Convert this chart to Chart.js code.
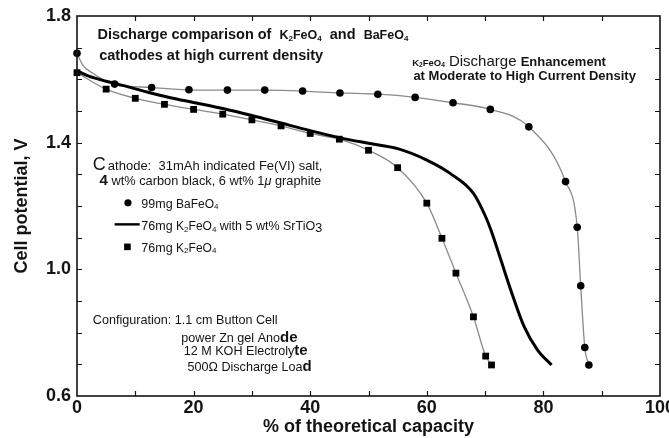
<!DOCTYPE html>
<html>
<head>
<meta charset="utf-8">
<script src="https://cdn.jsdelivr.net/npm/chart.js@4.4.1/dist/chart.umd.min.js"></script>
<style>
  html, body { margin: 0; padding: 0; background: #fff; }
  #wrap { width: 669px; height: 438px; }
</style>
</head>
<body>
<div id="wrap"><canvas id="c" width="669" height="438"></canvas></div>
<script>
// 99 mg BaFeO4 cathode: measured points (filled circles)
const baCapacity = [0, 6.45, 12.8, 19.2, 25.8, 32.2, 38.7, 45.1, 51.6, 58.0, 64.5, 70.9, 77.5, 83.8, 85.8, 86.4, 87.1, 87.8];
const baVoltage  = [1.682, 1.585, 1.574, 1.567, 1.566, 1.566, 1.563, 1.557, 1.553, 1.543, 1.526, 1.505, 1.450, 1.277, 1.133, 0.948, 0.753, 0.698];
// extra trace points of the BaFeO4 curve through its initial voltage drop
const baLeadCapacity = [1.0, 2.7, 4.4];
const baLeadVoltage  = [1.645, 1.619, 1.600];

// 76 mg K2FeO4 cathode: measured points (filled squares)
const kCapacity = [0, 5, 10, 15, 20, 25, 30, 35, 40, 45, 50, 55, 60, 62.6, 65, 68, 70.1, 71.1];
const kVoltage  = [1.621, 1.569, 1.540, 1.521, 1.505, 1.490, 1.472, 1.453, 1.429, 1.411, 1.376, 1.321, 1.209, 1.098, 0.988, 0.850, 0.726, 0.698];

// 76 mg K2FeO4 with 5 wt% SrTiO3: continuous discharge trace
const srCapacity = [0, 2, 5, 8, 12, 16, 20, 25, 30, 35, 40, 45, 50, 55, 60, 64, 68, 70, 71, 72.7, 74.4, 76.7, 79, 81.4];
const srVoltage  = [1.627, 1.610, 1.594, 1.580, 1.560, 1.542, 1.527, 1.508, 1.486, 1.462, 1.438, 1.416, 1.398, 1.381, 1.345, 1.303, 1.240, 1.170, 1.124, 1.030, 0.935, 0.819, 0.745, 0.698];

// labelled axis ticks
const capacityTicks = [0, 20, 40, 60, 80, 100];
const voltageTicks  = [0.6, 1.0, 1.4, 1.8];

const FAM = "'Liberation Sans', Arial, Helvetica, sans-serif";
const font = (w, s, style) => `${style || ''} ${w} ${s}px ${FAM}`.trim();
const INK = '#141414';
const GREY = '#8a8a8a';

const toPoints = (xs, ys) => xs.map((x, i) => ({ x, y: ys[i] }));
const baTrace = toPoints(baCapacity.concat(baLeadCapacity), baVoltage.concat(baLeadVoltage))
  .sort((a, b) => a.x - b.x);

// chemical formula pieces with subscripts
const chem = (parts, big, small, weight) => parts.map(p =>
  typeof p === 'number'
    ? { t: String(p), f: font(weight, small), dy: 1.5 }
    : { t: p, f: font(weight, big) });

// free text placed in data coordinates (capacity, voltage) at the text baseline
const notes = [
  { cap: 3.5, volt: 1.726, segs: [
      { t: 'Discharge comparison of  ', f: font('bold', 14.5) },
      ...chem(['K', 2, 'FeO', 4], 12.5, 8, 'bold'),
      { t: '  and  ', f: font('bold', 14.5) },
      ...chem(['BaFeO', 4], 12.5, 8, 'bold') ] },
  { cap: 3.8, volt: 1.661, segs: [ { t: 'cathodes at high current density', f: font('bold', 14.5) } ] },
  { cap: 57.5, volt: 1.643, segs: [
      ...chem(['K', 2, 'FeO', 4], 9.5, 6.5, 'bold'),
      { t: ' Discharge ', f: font('normal', 15) },
      { t: 'Enhancement', f: font('bold', 13) } ] },
  { cap: 57.7, volt: 1.598, segs: [ { t: 'at Moderate to High Current Density', f: font('bold', 13) } ] },
  { cap: 2.72, volt: 1.314, segs: [
      { t: 'C', f: font('normal', 18) },
      { t: 'athode:  31mAh indicated Fe(VI) salt,', f: font('normal', 13), dx: 2 } ] },
  { cap: 3.87, volt: 1.266, segs: [
      { t: '4', f: font('bold', 15) },
      { t: ' wt% carbon black, 6 wt% 1', f: font('normal', 12.8) },
      { t: 'μ', f: font('normal', 12.8, 'italic') },
      { t: ' graphite', f: font('normal', 12.8) } ] },
  { cap: 11.04, volt: 1.195, segs: [
      { t: '99mg ', f: font('normal', 12.5) },
      ...chem(['BaFeO', 4], 12, 8, 'normal') ] },
  { cap: 11.04, volt: 1.124, segs: [
      { t: '76mg ', f: font('normal', 12.5) },
      ...chem(['K', 2, 'FeO', 4], 12, 8, 'normal'),
      { t: ' with 5 wt% SrTiO', f: font('normal', 12.5) },
      { t: '3', f: font('normal', 12.5), dy: 1.5 } ] },
  { cap: 11.04, volt: 1.056, segs: [
      { t: '76mg ', f: font('normal', 12.5) },
      ...chem(['K', 2, 'FeO', 4], 12, 8, 'normal') ] },
  { cap: 2.72, volt: 0.827, segs: [ { t: 'Configuration: 1.1 cm Button Cell', f: font('normal', 12.6) } ] },
  { cap: 17.9, volt: 0.772, segs: [
      { t: 'power Zn gel Ano', f: font('normal', 12.6) },
      { t: 'de', f: font('bold', 15) } ] },
  { cap: 18.3, volt: 0.730, segs: [
      { t: '12 M KOH Electroly', f: font('normal', 12.6) },
      { t: 'te', f: font('bold', 15) } ] },
  { cap: 18.95, volt: 0.679, segs: [
      { t: '500Ω Discharge Loa', f: font('normal', 12.6) },
      { t: 'd', f: font('bold', 15) } ] }
];

// legend keys drawn inside the plot
const legendKeys = [
  { kind: 'circle', cap: 8.74, volt: 1.210 },
  { kind: 'line', cap: 6.45, cap2: 10.75, volt: 1.142 },
  { kind: 'square', cap: 8.65, volt: 1.071 }
];

function drawRich(ctx, x, y, segs) {
  let cx = x;
  for (const s of segs) {
    ctx.font = s.f;
    cx += s.dx || 0;
    ctx.fillText(s.t, cx, y + (s.dy || 0));
    cx += ctx.measureText(s.t).width;
  }
}

function subdivide(ticks, parts) {
  const out = [];
  for (let i = 0; i < ticks.length - 1; i++) {
    for (let k = 1; k < parts; k++) out.push(ticks[i] + (ticks[i + 1] - ticks[i]) * k / parts);
  }
  return out.concat(ticks.slice(1, -1));
}

const framePlugin = {
  id: 'frameAndNotes',
  afterDatasetsDraw(chart) {
    const { ctx, chartArea: a, scales: { x, y } } = chart;
    ctx.save();
    ctx.strokeStyle = INK;
    ctx.lineWidth = 1.6;
    ctx.strokeRect(a.left, a.top, a.right - a.left, a.bottom - a.top);

    // inward tick marks on all four sides
    const len = 5;
    ctx.lineWidth = 1.2;
    ctx.beginPath();
    for (const v of subdivide(capacityTicks, 2)) {
      const px = Math.round(x.getPixelForValue(v)) + 0.5;
      ctx.moveTo(px, a.bottom); ctx.lineTo(px, a.bottom - len);
      ctx.moveTo(px, a.top); ctx.lineTo(px, a.top + len);
    }
    for (const v of subdivide(voltageTicks, 4)) {
      const py = Math.round(y.getPixelForValue(v)) + 0.5;
      ctx.moveTo(a.left, py); ctx.lineTo(a.left + len, py);
      ctx.moveTo(a.right, py); ctx.lineTo(a.right - len, py);
    }
    ctx.stroke();

    // legend keys
    ctx.fillStyle = '#000';
    ctx.strokeStyle = '#000';
    for (const k of legendKeys) {
      const px = x.getPixelForValue(k.cap), py = y.getPixelForValue(k.volt);
      if (k.kind === 'circle') {
        ctx.beginPath(); ctx.arc(px, py, 3.6, 0, Math.PI * 2); ctx.fill();
      } else if (k.kind === 'square') {
        ctx.fillRect(px - 3.3, py - 3.3, 6.6, 6.6);
      } else {
        ctx.lineWidth = 2.4;
        ctx.beginPath();
        ctx.moveTo(px, py); ctx.lineTo(x.getPixelForValue(k.cap2), py);
        ctx.stroke();
      }
    }

    // annotations
    ctx.fillStyle = INK;
    ctx.textBaseline = 'alphabetic';
    ctx.textAlign = 'left';
    for (const n of notes) {
      drawRich(ctx, x.getPixelForValue(n.cap), y.getPixelForValue(n.volt), n.segs);
    }
    ctx.restore();
  }
};

const axisFont = { family: FAM, size: 18, weight: 'bold' };

new Chart(document.getElementById('c'), {
  type: 'scatter',
  data: {
    datasets: [
      { label: '99mg BaFeO4', data: toPoints(baCapacity, baVoltage), showLine: false, clip: false,
        pointStyle: 'circle', pointRadius: 3.8, pointBackgroundColor: '#000', pointBorderColor: '#000', pointBorderWidth: 0 },
      { label: '76mg K2FeO4', data: toPoints(kCapacity, kVoltage), showLine: false, clip: false,
        pointStyle: 'rect', pointRadius: 4.8, pointBackgroundColor: '#000', pointBorderColor: '#000', pointBorderWidth: 0 },
      { label: '76mg K2FeO4 with 5 wt% SrTiO3', data: toPoints(srCapacity, srVoltage), showLine: true,
        borderColor: '#000', borderWidth: 3, pointRadius: 0, cubicInterpolationMode: 'monotone' },
      { label: 'BaFeO4 trace', data: baTrace, showLine: true,
        borderColor: GREY, borderWidth: 1.3, pointRadius: 0, cubicInterpolationMode: 'monotone' },
      { label: 'K2FeO4 trace', data: toPoints(kCapacity, kVoltage), showLine: true,
        borderColor: GREY, borderWidth: 1.3, pointRadius: 0, cubicInterpolationMode: 'monotone' }
    ]
  },
  options: {
    responsive: false,
    animation: false,
    devicePixelRatio: 1,
    layout: { padding: { top: 16, right: 9, left: 0, bottom: 0 } },
    plugins: { legend: { display: false }, tooltip: { enabled: false } },
    scales: {
      x: {
        type: 'linear', min: 0, max: 100,
        afterBuildTicks: s => { s.ticks = capacityTicks.map(v => ({ value: v })); },
        afterFit: s => { s.height = 42; s.paddingLeft = 0; s.paddingRight = 0; },
        grid: { display: false, drawTicks: false },
        border: { display: false },
        ticks: { font: axisFont, color: INK, padding: 1, maxRotation: 0, autoSkip: false },
        title: { display: true, text: '% of theoretical capacity', font: axisFont, color: INK, padding: { top: 0, bottom: 0 } }
      },
      y: {
        type: 'linear', min: 0.6, max: 1.8,
        afterBuildTicks: s => { s.ticks = voltageTicks.map(v => ({ value: v })); },
        afterFit: s => { s.width = 77; s.paddingTop = 0; s.paddingBottom = 0; },
        grid: { display: false, drawTicks: false },
        border: { display: false },
        ticks: { font: axisFont, color: INK, padding: 6, autoSkip: false, callback: v => v.toFixed(1) },
        title: { display: true, text: 'Cell potential, V', font: axisFont, color: INK, padding: { top: 11, bottom: 0 } }
      }
    }
  },
  plugins: [framePlugin]
});
</script>
</body>
</html>
